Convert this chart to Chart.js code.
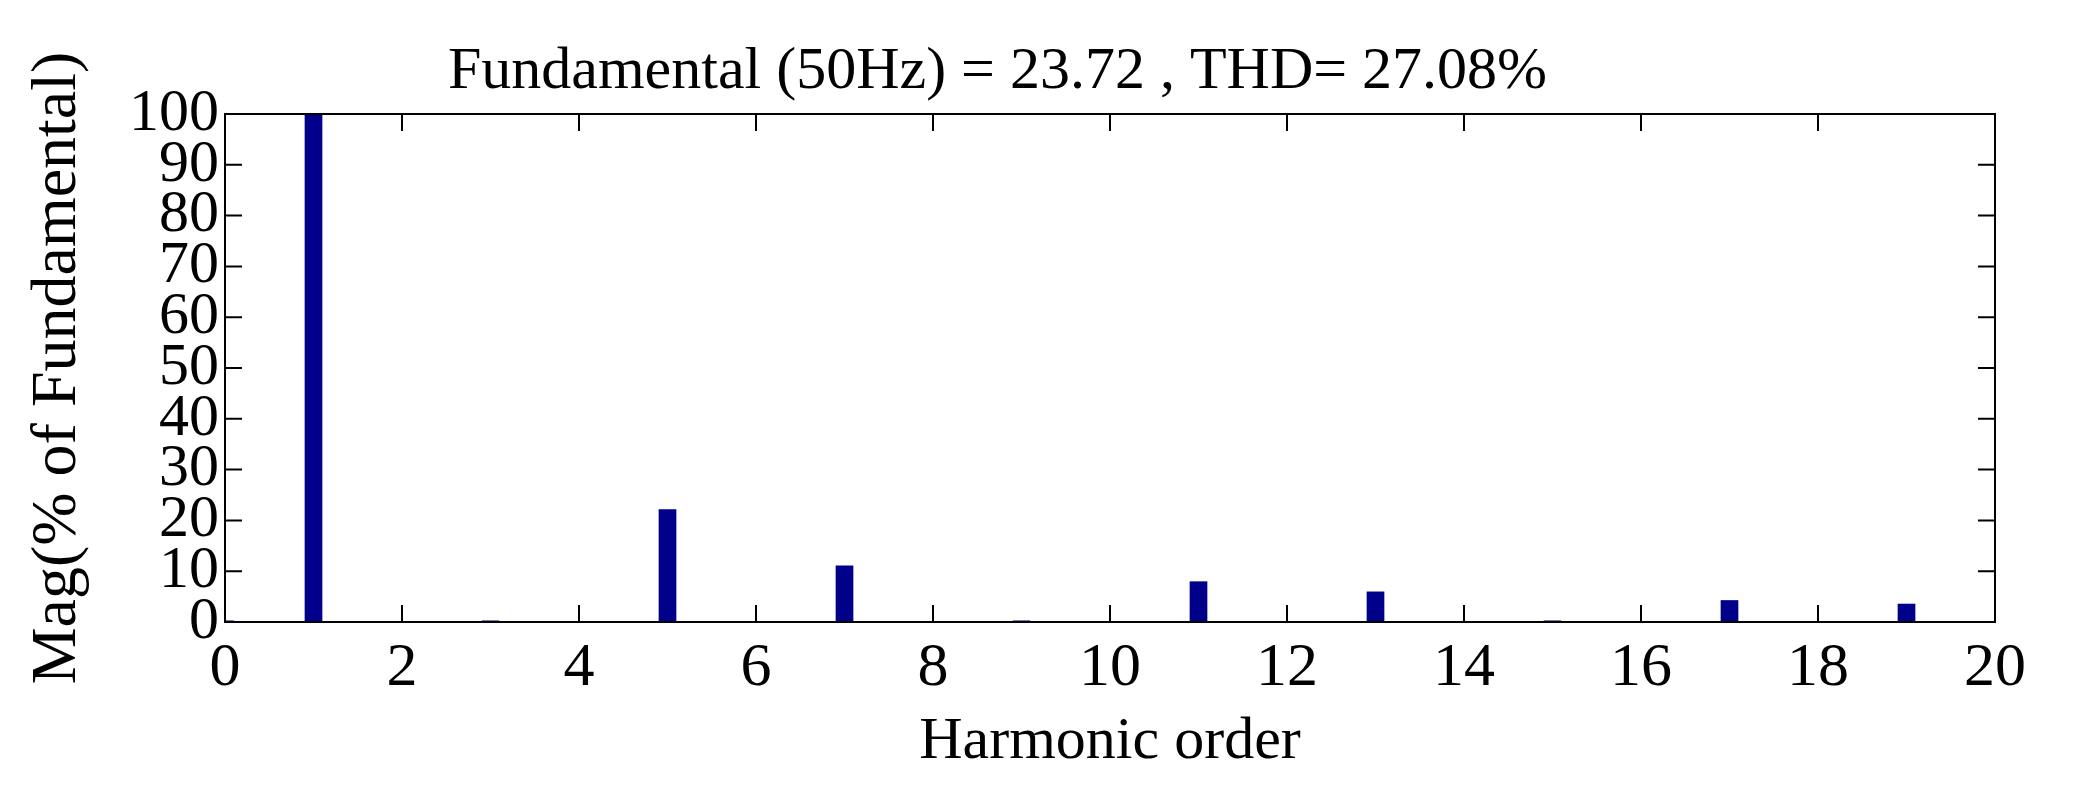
<!DOCTYPE html>
<html>
<head>
<meta charset="utf-8">
<script src="https://cdn.jsdelivr.net/npm/chart.js@4"></script>
<style>
  html, body { margin: 0; background: #fff; }
  #wrap { width: 2078px; height: 792px; }
</style>
</head>
<body>
<div id="wrap"><canvas id="c"></canvas></div>
<script>
// harmonic spectrum, % of fundamental
const harmonics = [0, 1, 2, 3, 4, 5, 6, 7, 8, 9, 10, 11, 12, 13, 14, 15, 16, 17, 18, 19];
const magnitude = [0.3, 100, 0.2, 0.3, 0.2, 22.2, 0.2, 11.1, 0.2, 0.3, 0.2, 8.0, 0.2, 6.0, 0.2, 0.3, 0.2, 4.3, 0.2, 3.6];
const xTicks = [0, 2, 4, 6, 8, 10, 12, 14, 16, 18, 20];
const yTicks = [0, 10, 20, 30, 40, 50, 60, 70, 80, 90, 100];

const serif = 'Liberation Serif, Times New Roman, serif';

// MATLAB-style box with inward ticks on all four sides
const boxTicks = {
  id: 'boxTicks',
  afterDraw(chart) {
    const {ctx, chartArea: a, scales: {x, y}} = chart;
    const len = 17;
    ctx.save();
    ctx.strokeStyle = '#000';
    ctx.lineWidth = 2;
    ctx.strokeRect(a.left, a.top, a.right - a.left, a.bottom - a.top);
    ctx.beginPath();
    xTicks.forEach(v => {
      const px = x.getPixelForValue(v);
      ctx.moveTo(px, a.bottom); ctx.lineTo(px, a.bottom - len);
      ctx.moveTo(px, a.top);    ctx.lineTo(px, a.top + len);
    });
    yTicks.forEach(v => {
      const py = y.getPixelForValue(v);
      ctx.moveTo(a.left, py);  ctx.lineTo(a.left + len, py);
      ctx.moveTo(a.right, py); ctx.lineTo(a.right - len, py);
    });
    ctx.stroke();
    ctx.restore();
  }
};

new Chart(document.getElementById('c'), {
  type: 'bar',
  data: {
    datasets: [{
      data: harmonics.map((h, i) => ({x: h, y: magnitude[i]})),
      backgroundColor: '#00008b',
      borderWidth: 0,
      barPercentage: 0.2,
      categoryPercentage: 1,
    }],
  },
  options: {
    responsive: true, maintainAspectRatio: false, animation: false,
    layout: {padding: {left: 0, right: 83, top: 0, bottom: 0}},
    plugins: {
      legend: {display: false},
      tooltip: {enabled: false},
      title: {
        display: true,
        text: 'Fundamental (50Hz) = 23.72 , THD= 27.08%',
        color: '#000',
        font: {family: serif, size: 60, weight: 'normal'},
        padding: {top: 36, bottom: 6},
      },
    },
    scales: {
      x: {
        type: 'linear', min: 0, max: 20, offset: false,
        grid: {display: false, drawTicks: false},
        border: {display: false},
        afterBuildTicks: s => { s.ticks = xTicks.map(v => ({value: v})); },
        afterFit: s => { s.height = 170; },
        ticks: {color: '#000', padding: 10, autoSkip: false, maxRotation: 0, font: {family: serif, size: 62}},
        title: {
          display: true, text: 'Harmonic order', color: '#000',
          font: {family: serif, size: 60}, padding: {top: 0, bottom: 14},
        },
      },
      y: {
        min: 0, max: 100,
        grid: {display: false, drawTicks: false},
        border: {display: false},
        afterBuildTicks: s => { s.ticks = yTicks.map(v => ({value: v})); },
        afterFit: s => { s.width = 225; },
        ticks: {color: '#000', padding: 6, autoSkip: false, font: {family: serif, size: 60}},
        title: {
          display: true, text: 'Mag(% of Fundamental)', color: '#000',
          font: {family: serif, size: 64}, padding: {top: 20, bottom: 0},
        },
      },
    },
  },
  plugins: [boxTicks],
});
</script>
</body>
</html>
